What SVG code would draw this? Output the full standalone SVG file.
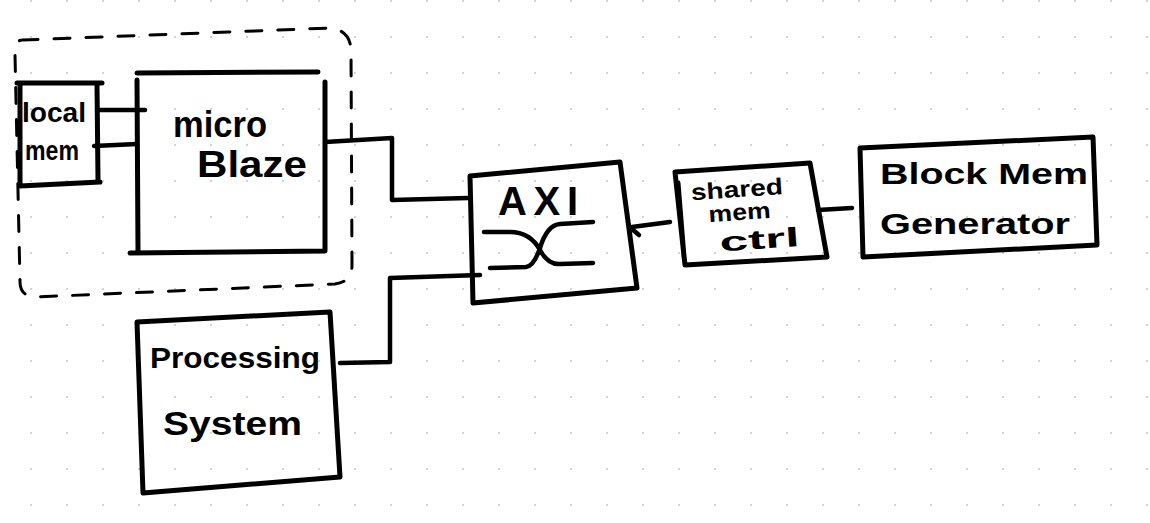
<svg xmlns="http://www.w3.org/2000/svg" width="1150" height="523" viewBox="0 0 1150 523">
<defs>
<pattern id="grid" x="13" y="-17" width="36" height="36" patternUnits="userSpaceOnUse">
<circle cx="18" cy="18" r="1" fill="#c4c4c4"/>
</pattern>
<style>
.box{fill:none;stroke:#000;stroke-width:5;stroke-linecap:round;stroke-linejoin:round}
.wire{fill:none;stroke:#000;stroke-width:4.5;stroke-linecap:round;stroke-linejoin:round}
.dash{fill:none;stroke:#000;stroke-width:3;stroke-dasharray:16 16;stroke-linecap:round}
.t{font-family:"Liberation Sans","DejaVu Sans",sans-serif;font-weight:bold;fill:#000}
</style>
</defs>
<rect width="1150" height="523" fill="#fff"/>
<rect width="1150" height="523" fill="url(#grid)"/>

<g id="group-microblaze">
<path class="dash" d="M22,40 L330,28 Q350,30 351,50 L352,265 Q352,282 335,284 L35,297 Q20,296 20,282 L15,55 Q15,40 22,40 Z"/>
</g>

<g id="local-mem">
<path class="box" d="M17,83 L102,83 M20,84 L20,185 M97,84 L98,180 M20,186 L100,182"/>
<text class="t" x="22" y="122" font-size="27" textLength="64" lengthAdjust="spacingAndGlyphs">local</text>
<text class="t" x="25" y="160" font-size="27" textLength="54" lengthAdjust="spacingAndGlyphs">mem</text>
</g>

<g id="microblaze">
<path class="box" d="M137,73 L318,72 M137,80 L138,252 M325,82 L325,250 M130,253 L325,251"/>
<text class="t" x="173" y="137" font-size="36" textLength="94" lengthAdjust="spacingAndGlyphs">micro</text>
<text class="t" x="197" y="177" font-size="36" textLength="110" lengthAdjust="spacingAndGlyphs">Blaze</text>
</g>

<g id="axi">
<path class="box" d="M470,176 L620,162 L637,288 L473,303 Z"/>
<text class="t" x="498" y="215" font-size="40" textLength="80" lengthAdjust="spacing">AXI</text>
<path class="wire" d="M484,232 L510,232 Q530,232 540,250 Q548,265 560,264 L593,263"/>
<path class="wire" d="M490,268 L526,267 Q534,266 540,248 Q547,225 560,224 L593,222"/>
</g>

<g id="shared-mem-ctrl">
<path class="box" d="M675,172 L810,163 L827,257 L685,265 Z M678,183 L684,257"/>
<g transform="rotate(-4 740 205)">
<text class="t" x="692" y="197" font-size="23" textLength="92" lengthAdjust="spacingAndGlyphs">shared</text>
<text class="t" x="708" y="220" font-size="23" textLength="62" lengthAdjust="spacingAndGlyphs">mem</text>
<text class="t" x="717" y="250" font-size="27" textLength="80" lengthAdjust="spacingAndGlyphs">ctrl</text>
</g>
</g>

<g id="block-mem-generator">
<path class="box" d="M860,148 L1093,137 L1097,245 L863,257 Z"/>
<text class="t" x="880" y="184" font-size="29" textLength="208" lengthAdjust="spacingAndGlyphs">Block Mem</text>
<text class="t" x="880" y="234" font-size="29" textLength="190" lengthAdjust="spacingAndGlyphs">Generator</text>
</g>

<g id="processing-system">
<path class="box" d="M137,322 L330,312 L340,477 L143,493 Z"/>
<text class="t" x="150" y="368" font-size="30" textLength="170" lengthAdjust="spacingAndGlyphs">Processing</text>
<text class="t" x="163" y="435" font-size="33" textLength="139" lengthAdjust="spacingAndGlyphs">System</text>
</g>

<g id="connectors">
<path class="wire" d="M97,110 L145,110"/>
<path class="wire" d="M94,146 L137,144"/>
<path class="wire" d="M325,142 L392,138 L392,200 L468,198"/>
<path class="wire" d="M340,363 L390,362 L390,278 L480,275"/>
<path class="wire" d="M632,227 L670,222 M633,230 L639,235"/>
<path class="wire" d="M818,210 L852,208"/>
</g>
</svg>
